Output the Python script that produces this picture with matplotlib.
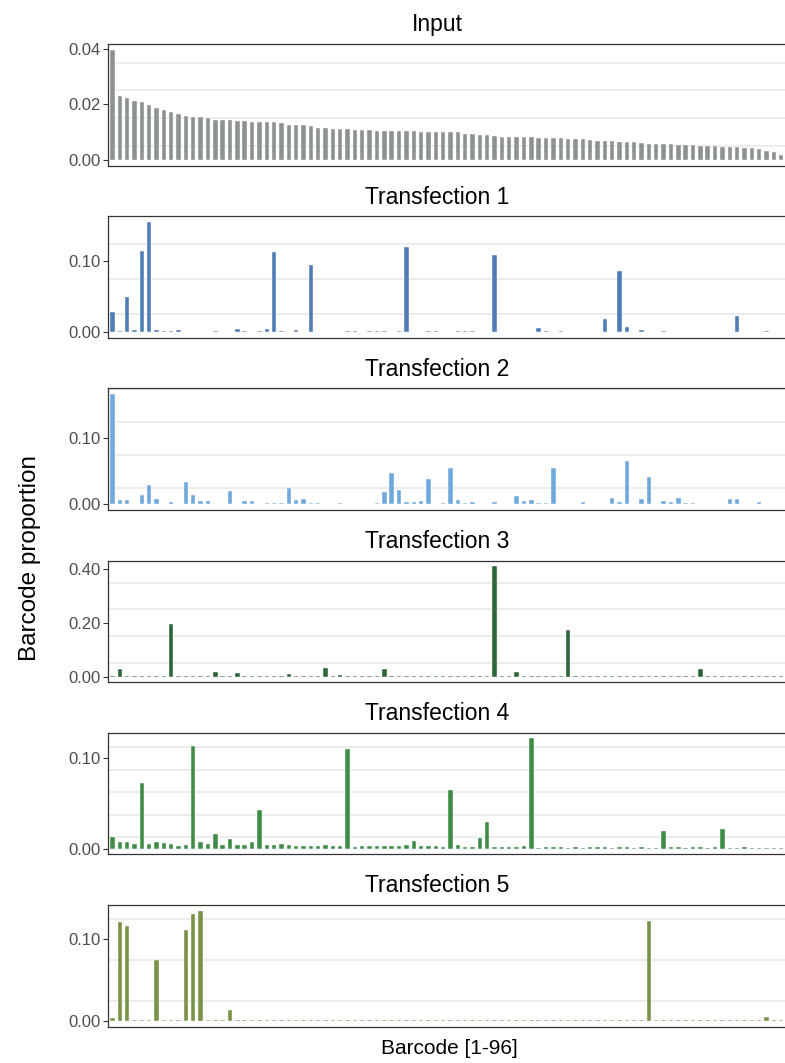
import numpy as np
import matplotlib.pyplot as plt

plt.rcParams['font.family'] = ['Liberation Sans', 'DejaVu Sans']

# panel names, top to bottom
panels = ["Input", "Transfection 1", "Transfection 2", "Transfection 3",
          "Transfection 4", "Transfection 5"]

# barcode proportions, barcodes 1-96 (ordered by input abundance)
input_prop = [
    0.0397, 0.0229, 0.0222, 0.0212, 0.0207, 0.0196, 0.0187, 0.0181, 0.0173, 0.0166, 0.0159, 0.0155,
    0.0153, 0.0151, 0.0145, 0.0144, 0.0143, 0.0141, 0.0139, 0.0138, 0.0136, 0.0135, 0.0135, 0.0132,
    0.0126, 0.0126, 0.0124, 0.0121, 0.0116, 0.0115, 0.0113, 0.0110, 0.0110, 0.0108, 0.0106, 0.0106,
    0.0105, 0.0105, 0.0104, 0.0103, 0.0103, 0.0103, 0.0102, 0.0102, 0.0101, 0.0100, 0.0100, 0.0099,
    0.0094, 0.0092, 0.0090, 0.0088, 0.0087, 0.0084, 0.0083, 0.0082, 0.0081, 0.0081, 0.0080, 0.0080,
    0.0079, 0.0078, 0.0077, 0.0075, 0.0074, 0.0072, 0.0069, 0.0068, 0.0067, 0.0066, 0.0065, 0.0064,
    0.0062, 0.0059, 0.0058, 0.0057, 0.0056, 0.0055, 0.0054, 0.0053, 0.0052, 0.0052, 0.0049, 0.0048,
    0.0047, 0.0046, 0.0044, 0.0042, 0.0040, 0.0034, 0.0028, 0.0019, 0.0015, 0.0012, 0.0009, 0.0005]

trans1 = [
    0.028, 0.001, 0.049, 0.003, 0.115, 0.156, 0.003, 0.001, 0.002, 0.0025, 0.0005, 0.0005,
    0.0005, 0.0005, 0.002, 0.0005, 0.0005, 0.005, 0.002, 0.0005, 0.002, 0.004, 0.113, 0.002,
    0.0005, 0.003, 0.0005, 0.095, 0.0005, 0.0005, 0.0005, 0.0005, 0.002, 0.001, 0.0005, 0.001,
    0.001, 0.002, 0.0005, 0.002, 0.120, 0.0005, 0.0005, 0.002, 0.001, 0.0005, 0.0005, 0.002,
    0.002, 0.001, 0.0005, 0.0005, 0.109, 0.0005, 0.0005, 0.0005, 0.0005, 0.0005, 0.006, 0.001,
    0.0005, 0.001, 0.0005, 0.0005, 0.0005, 0.0005, 0.0005, 0.019, 0.0005, 0.086, 0.0075, 0.0005,
    0.003, 0.0005, 0.0005, 0.001, 0.0005, 0.0005, 0.0005, 0.0005, 0.0005, 0.0005, 0.0005, 0.0005,
    0.0005, 0.0235, 0.0005, 0.0005, 0.0005, 0.001, 0.0005, 0.0005, 0.0005, 0.0005, 0.0005, 0.0005]

trans2 = [
    0.1675, 0.007, 0.007, 0.001, 0.0137, 0.029, 0.008, 0.001, 0.004, 0.0005, 0.0335, 0.0137,
    0.005, 0.005, 0.001, 0.0005, 0.0198, 0.0005, 0.005, 0.005, 0.001, 0.002, 0.002, 0.0015,
    0.025, 0.006, 0.0076, 0.0025, 0.002, 0.001, 0.001, 0.002, 0.0005, 0.0005, 0.0005, 0.0005,
    0.002, 0.019, 0.048, 0.022, 0.003, 0.003, 0.005, 0.039, 0.001, 0.002, 0.0553, 0.006,
    0.002, 0.0035, 0.001, 0.001, 0.003, 0.0005, 0.0005, 0.0127, 0.0046, 0.006, 0.002, 0.002,
    0.0553, 0.0005, 0.0005, 0.0005, 0.003, 0.0005, 0.0005, 0.0005, 0.010, 0.0036, 0.0655, 0.0005,
    0.008, 0.0416, 0.0005, 0.0056, 0.004, 0.010, 0.002, 0.0025, 0.0005, 0.0005, 0.0005, 0.0005,
    0.008, 0.008, 0.0005, 0.0005, 0.003, 0.001, 0.001, 0.0005, 0.0005, 0.0005, 0.0005, 0.0005]

trans3 = [
    0.0005, 0.028, 0.0005, 0.0005, 0.0005, 0.0005, 0.0005, 0.0005, 0.196, 0.0005, 0.0005, 0.0005,
    0.0005, 0.0005, 0.018, 0.0005, 0.0005, 0.015, 0.0005, 0.0005, 0.0005, 0.0005, 0.0005, 0.0005,
    0.009, 0.0005, 0.0005, 0.0005, 0.0005, 0.031, 0.0005, 0.007, 0.0005, 0.0005, 0.001, 0.0005,
    0.0005, 0.027, 0.0005, 0.0005, 0.0005, 0.0005, 0.001, 0.004, 0.0005, 0.001, 0.0005, 0.001,
    0.0005, 0.0005, 0.0005, 0.0005, 0.411, 0.0005, 0.0005, 0.016, 0.0005, 0.0005, 0.0005, 0.0005,
    0.0005, 0.0005, 0.173, 0.0005, 0.0005, 0.003, 0.0005, 0.0005, 0.0005, 0.0005, 0.0005, 0.0005,
    0.0005, 0.001, 0.0005, 0.001, 0.0005, 0.0005, 0.0005, 0.0005, 0.027, 0.0005, 0.0005, 0.0005,
    0.0005, 0.0005, 0.0005, 0.0005, 0.001, 0.0005, 0.0005, 0.0005, 0.0005, 0.0005, 0.0005, 0.0005]

trans4 = [
    0.0125, 0.0078, 0.0078, 0.0055, 0.073, 0.0052, 0.008, 0.006, 0.0055, 0.003, 0.0037, 0.1137,
    0.0074, 0.0055, 0.0166, 0.0037, 0.0103, 0.004, 0.004, 0.0078, 0.0424, 0.0037, 0.0037, 0.0052,
    0.0037, 0.003, 0.003, 0.003, 0.003, 0.004, 0.003, 0.003, 0.110, 0.002, 0.0026, 0.0026,
    0.0026, 0.0026, 0.0026, 0.0026, 0.0044, 0.0085, 0.0026, 0.0026, 0.003, 0.0015, 0.065, 0.0037,
    0.0022, 0.0015, 0.0114, 0.030, 0.002, 0.002, 0.002, 0.002, 0.003, 0.122, 0.0011, 0.002,
    0.0015, 0.0015, 0.0012, 0.0015, 0.0012, 0.0015, 0.002, 0.0015, 0.0012, 0.002, 0.0015, 0.0012,
    0.0015, 0.0012, 0.0012, 0.0195, 0.002, 0.0015, 0.0008, 0.0015, 0.002, 0.0008, 0.0022, 0.0218,
    0.0005, 0.0006, 0.002, 0.0005, 0.0005, 0.0005, 0.0005, 0.0005, 0.0005, 0.0005, 0.0005, 0.0005]

trans5 = [
    0.004, 0.122, 0.117, 0.0015, 0.0015, 0.0017, 0.075, 0.0017, 0.001, 0.001, 0.112, 0.131,
    0.1355, 0.001, 0.001, 0.0015, 0.013, 0.001, 0.0013, 0.001, 0.001, 0.0008, 0.0008, 0.0008,
    0.0008, 0.0008, 0.0008, 0.0008, 0.0008, 0.001, 0.0008, 0.0008, 0.0008, 0.0008, 0.0008, 0.0008,
    0.0008, 0.0008, 0.0008, 0.0008, 0.0008, 0.0008, 0.0008, 0.0012, 0.0008, 0.0008, 0.0008, 0.0008,
    0.0008, 0.0008, 0.0008, 0.0008, 0.0008, 0.0008, 0.0008, 0.0008, 0.0008, 0.0008, 0.0008, 0.0008,
    0.0008, 0.0008, 0.0008, 0.0008, 0.0008, 0.0008, 0.0008, 0.0008, 0.0008, 0.0008, 0.0008, 0.0008,
    0.0008, 0.123, 0.0008, 0.0008, 0.0008, 0.0008, 0.0008, 0.0008, 0.0008, 0.0008, 0.0008, 0.0008,
    0.0008, 0.0008, 0.0008, 0.0008, 0.0008, 0.0054, 0.0008, 0.0008, 0.0008, 0.0008, 0.0008, 0.0008]

series = [input_prop, trans1, trans2, trans3, trans4, trans5]
colors = ["#8C9290", "#4E7DB5", "#6FA8DC", "#2C6537", "#408C46", "#7A9246"]
y_ticks = [[0, 0.02, 0.04], [0, 0.10], [0, 0.10], [0, 0.20, 0.40], [0, 0.10], [0, 0.10]]
grid_step = [0.01, 0.05, 0.05, 0.10, 0.025, 0.05]

W, H = 785, 1063
fig = plt.figure(figsize=(W / 100, H / 100), dpi=100)

left, width = 108, 707      # panel runs past the right edge of the image
top0, pitch, ph = 44, 172.2, 121.5

for i, vals in enumerate(series):
    vals = np.array(vals)
    top = top0 + i * pitch
    ax = fig.add_axes([left / W, 1 - (top + ph) / H, width / W, ph / H])
    x = np.arange(len(vals))
    ax.bar(x, vals, width=0.6, color=colors[i], edgecolor="white", linewidth=0.3, zorder=2)

    ymax = vals.max()
    ax.set_xlim(-0.6, len(vals) - 0.4)
    ax.set_ylim(-0.05 * ymax, 1.05 * ymax)

    # only the in-between gridlines are drawn
    g = grid_step[i] / 2
    while g < 1.05 * ymax:
        ax.axhline(g, color="#EBEBEB", lw=1.3, zorder=1)
        g += grid_step[i]

    ax.set_xticks([])
    ax.set_yticks(y_ticks[i])
    ax.set_yticklabels(["%.2f" % t for t in y_ticks[i]])
    ax.tick_params(axis="y", length=3.5, width=0.8, color="#333333",
                   labelsize=12, labelcolor="#4D4D4D", pad=2)
    for s in ax.spines.values():
        s.set_color("#333333")
        s.set_linewidth(0.9)

    fig.text(437 / W, 1 - (top - 19) / H, panels[i], ha="center", va="center",
             fontsize=16.5, color="black")

fig.text(30 / W, 1 - 558 / H, "Barcode proportion", rotation=90, ha="center",
         va="center", fontsize=17.5)
fig.text(449 / W, 1 - 1048 / H, "Barcode [1-96]", ha="center", va="center", fontsize=15)

fig.savefig("out.png", dpi=100)
